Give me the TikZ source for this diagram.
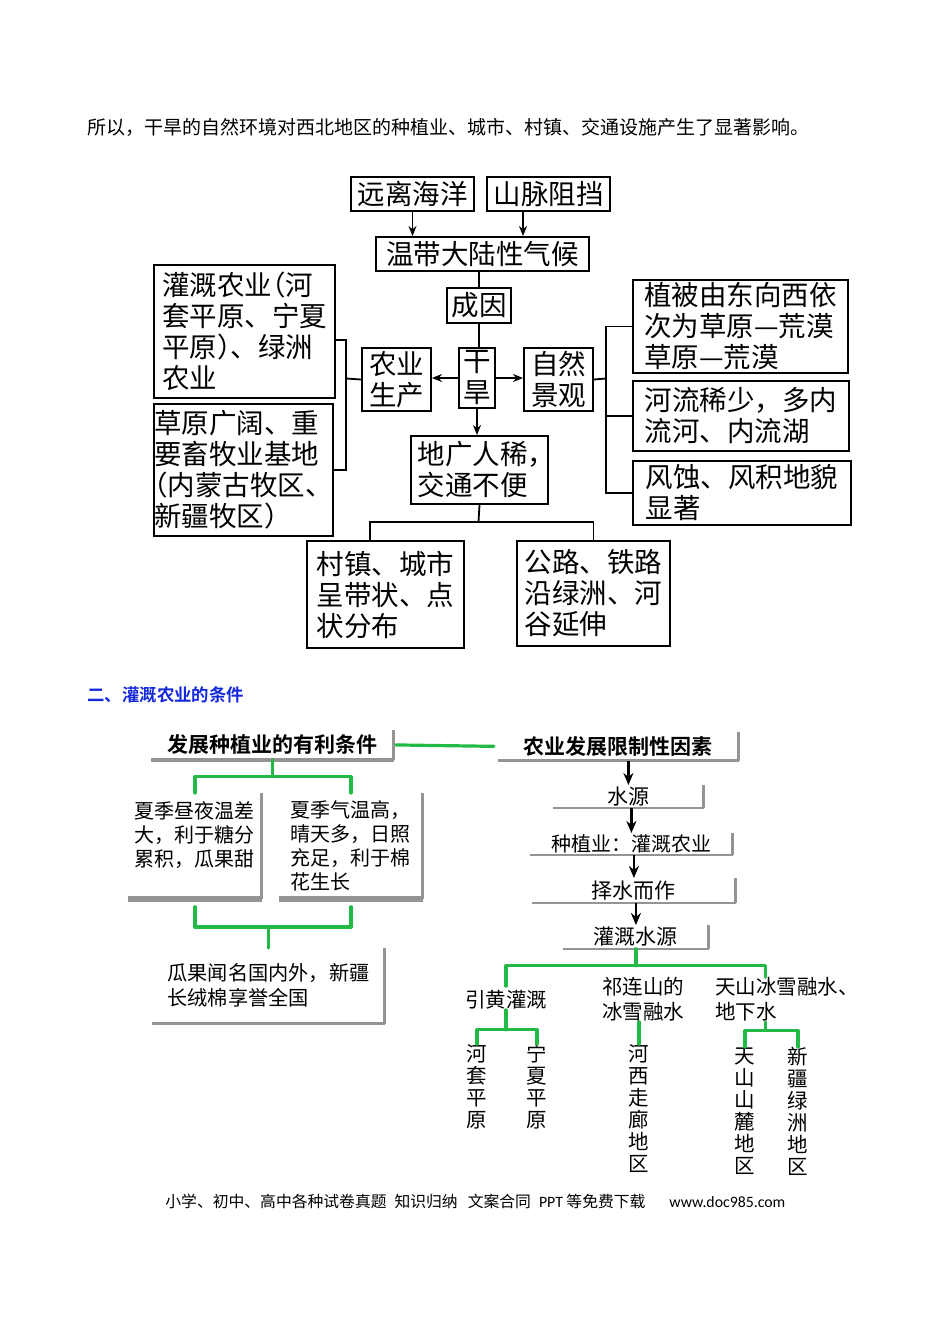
\documentclass[tikz,border=0pt]{standalone}
\usepackage{fontspec}
\setmainfont{Noto Sans CJK SC}[BoldFont={Noto Sans CJK SC Bold}]
\newfontfamily\latinfont{Carlito}
\usetikzlibrary{arrows.meta}
\definecolor{penGreen}{RGB}{35,185,70}
\definecolor{headBlue}{RGB}{20,40,220}
\def\topfont{\fontsize{13.75}{15.5}\selectfont}
\def\subfont{\fontsize{10}{12}\selectfont}
\def\hlp{\makebox[0.5em][r]{（}}
\def\hrp{\makebox[0.5em][l]{）}}
\def\hcomma{\makebox[0.5em][l]{，}}
\def\shadowL#1#2{\draw[shadowline, line width=#2] (#1.south west) -- (#1.south east); \draw[shadowline, line width=1.4pt] (#1.south east) -- (#1.north east);}

\begin{document}
\begin{tikzpicture}[x=0.5pt, y=-0.5pt,
	tbox/.style={draw, line width=1pt, inner sep=0pt, align=left, anchor=north west, font=\topfont},
	con/.style={line width=0.9pt},
	arr/.style={con, -{Stealth[length=5pt, width=4pt]}},
	sbox/.style={inner sep=0pt, align=left, anchor=north west, font=\subfont},
	shadowline/.style={black!42},
	grn/.style={penGreen, line width=1.6pt, line cap=round, line join=round},
	barr/.style={line width=1.1pt, -{Stealth[length=6pt, width=5pt]}},
	vtext/.style={inner sep=0pt, align=center, anchor=north, font=\fontsize{10.25}{11}\selectfont},
	]
		%%%%% START %%%%%
		\useasboundingbox (0,0) rectangle (950,1344);
		
		\node[anchor=west, inner sep=0pt, font=\fontsize{9.5}{11}\selectfont] (intro) at (87,127) {所以，干旱的自然环境对西北地区的种植业、城市、村镇、交通设施产生了显著影响。};
		
		%%%%% top chart %%%%%
		\node[tbox, align=center, minimum width=61.5pt, minimum height=17pt] (yuan) at (350,176) {远离海洋};
		\node[tbox, align=center, minimum width=61.5pt, minimum height=17pt] (shan) at (486,176) {山脉阻挡};
		\node[tbox, align=center, minimum width=106.5pt, minimum height=17pt] (qihou) at (375,236) {温带大陆性气候};
		\node[tbox, align=center, minimum width=32pt, minimum height=17.5pt] (chengyin) at (446,287) {成因};
		\node[tbox, align=center, minimum width=18pt, minimum height=30pt] (ganhan) at (458,347) {干\\旱};
		\node[tbox, align=center, minimum width=34.5pt, minimum height=31.5pt] (nongye) at (361,347) {农业\\生产};
		\node[tbox, align=center, minimum width=34.5pt, minimum height=31.5pt] (ziran) at (523,347) {自然\\景观};
		\node[tbox, minimum width=68.5pt, minimum height=34pt] (diguang) at (410,435) {地广人稀\hcomma\\交通不便};
		
		\node[tbox, minimum width=90.5pt, minimum height=66.5pt] (guangai) at (153,264) {灌溉农业\hlp 河\\套平原、宁夏\\平原\hrp 、绿洲\\农业};
		\node[tbox, minimum width=89.5pt, minimum height=66pt] (caoyuan) at (153,403) {草原广阔、重\\要畜牧业基地\\\hlp 内蒙古牧区、\\新疆牧区\hrp};
		
		\node[tbox, minimum width=107.5pt, minimum height=46.5pt] (zhibei) at (632,279) {植被由东向西依\\次为草原—荒漠\\草原—荒漠};
		\node[tbox, minimum width=108pt, minimum height=35pt] (heliu) at (632,380) {河流稀少，多内\\流河、内流湖};
		\node[tbox, minimum width=109pt, minimum height=32pt] (fengshi) at (632,460) {风蚀、风积地貌\\显著};
		
		\node[tbox, minimum width=78.5pt, minimum height=53.5pt] (cunzhen) at (306,540) {村镇、城市\\呈带状、点\\状分布};
		\node[tbox, minimum width=76.5pt, minimum height=52.5pt] (gonglu) at (516,540) {公路、铁路\\沿绿洲、河\\谷延伸};
		
		\draw[arr] (yuan.south) -- (yuan.south |- qihou.north);
		\draw[arr] ([xshift=18.5pt]shan.south west) -- ([xshift=18.5pt]shan.south west |- qihou.north);
		\draw[con] (qihou.south -| chengyin.north) -- (chengyin.north);
		\draw[con] (chengyin.south) -- (chengyin.south |- ganhan.north);
		\draw[arr] (ganhan.west) -- (ganhan.west -| nongye.east);
		\draw[arr] (ganhan.east) -- (ganhan.east -| ziran.west);
		\draw[arr] (ganhan.south) -- (ganhan.south |- diguang.north);
		
		\coordinate (lj) at (346,378.5);
		\draw[con] (nongye.west) -- (lj);
		\draw[con] ([yshift=-4.25pt]guangai.east) -| (lj);
		\draw[con] (caoyuan.east) -| (lj);
		
		\coordinate (rj) at (606,378.5);
		\draw[con] (ziran.east) -- (rj);
		\draw[con] (zhibei.west) -| (rj);
		\draw[con] (heliu.west) -- (heliu.west -| rj);
		\draw[con] (fengshi.west) -| (rj);
		
		\coordinate (bj) at (478.5,522);
		\draw[con] (diguang.south) -- (bj);
		\draw[con] ([xshift=-7.75pt]cunzhen.north) |- (bj) -| (gonglu.north);
		
		%%%%% section two %%%%%
		\node[anchor=west, inner sep=0pt, font=\fontsize{8.7}{10}\selectfont\bfseries, text=headBlue] (sec) at (87,695) {二、灌溉农业的条件};
		
		\node[sbox, align=center, minimum width=121pt, minimum height=14.5pt, font=\fontsize{10.5}{12}\selectfont\bfseries] (youli) at (151,730) {发展种植业的有利条件};
		\node[sbox, align=center, minimum width=120pt, minimum height=14pt, font=\fontsize{10.5}{12}\selectfont\bfseries] (xianzhi) at (498,732) {农业发展限制性因素};
		\node[sbox, minimum width=66.5pt, minimum height=52.5pt] (wencha) at (128,793) {夏季昼夜温差\\大，利于糖分\\累积，瓜果甜\\\mbox{}};
		\node[sbox, minimum width=71.5pt, minimum height=52.5pt] (qiwen) at (279,793) {夏季气温高，\\晴天多，日照\\充足，利于棉\\花生长};
		\node[sbox, minimum width=116pt, minimum height=37.5pt, font=\fontsize{10.1}{12.5}\selectfont] (guaguo) at (152,948) {瓜果闻名国内外，新疆\\长绒棉享誉全国};
		
		\node[sbox, align=center, minimum width=75pt, minimum height=11pt, font=\fontsize{10.5}{12}\selectfont] (shuiyuan) at (553,785) {水源};
		\node[sbox, align=center, minimum width=101pt, minimum height=10.5pt] (zhongzhi) at (530,833) {种植业：灌溉农业};
		\node[sbox, align=center, minimum width=101.5pt, minimum height=12pt, font=\fontsize{10.5}{12}\selectfont] (zeshui) at (532,878) {择水而作};
		\node[sbox, align=center, minimum width=72.5pt, minimum height=11.5pt, font=\fontsize{10.5}{12}\selectfont] (guanshui) at (563,925) {灌溉水源};
		
		\shadowL{youli}{2pt}
		\shadowL{xianzhi}{1.6pt}
		\shadowL{wencha}{3pt}
		\shadowL{qiwen}{3pt}
		\shadowL{guaguo}{1.5pt}
		\shadowL{shuiyuan}{1.2pt}
		\shadowL{zhongzhi}{1.2pt}
		\shadowL{zeshui}{1.2pt}
		\shadowL{guanshui}{1.2pt}
		
		\node[inner sep=0pt, font=\fontsize{10.25}{12.5}\selectfont] (yinhuang) at (506,1000) {引黄灌溉};
		\node[inner sep=0pt, anchor=west, align=left, font=\fontsize{10.25}{12.5}\selectfont] (qilian) at (602,999.5) {祁连山的\\冰雪融水};
		\node[inner sep=0pt, anchor=west, align=left, font=\fontsize{10.25}{12.5}\selectfont] (tianshan) at (715,999.5) {天山冰雪融水、\\地下水};
		
		\node[vtext] (hetao) at (477,1044) {河\\套\\平\\原};
		\node[vtext] (ningxia) at (537,1044) {宁\\夏\\平\\原};
		\node[vtext] (hexi) at (639,1044) {河\\西\\走\\廊\\地\\区};
		\node[vtext] (shanlu) at (745,1047) {天\\山\\山\\麓\\地\\区};
		\node[vtext] (lvzhou) at (798,1047) {新\\疆\\绿\\洲\\地\\区};
		
		\draw[barr] (shuiyuan.north |- xianzhi.south) -- (shuiyuan.north);
		\draw[barr] (zhongzhi.north |- shuiyuan.south) -- (zhongzhi.north);
		\draw[barr] (zeshui.north |- zhongzhi.south) -- (zeshui.north);
		\draw[barr] (guanshui.north |- zeshui.south) -- (guanshui.north);
		
		% green pen marks
		\draw[grn, shorten <=1pt, shorten >=2pt] (youli.east) -- (xianzhi.west);
		\draw[grn] (youli.south) -- ++(0,17) coordinate (pj);
		\draw[grn] (wencha.north) |- (pj) -| (qiwen.north);
		\draw[grn] (guaguo.north) -- ++(0,-21) coordinate (sj);
		\draw[grn] ([yshift=-4pt]wencha.south) |- (sj) -| ([yshift=-4pt]qiwen.south);
		
		\draw[grn] (guanshui.south) -- ++(0,17) coordinate (wj);
		\draw[grn, shorten <=2pt] (yinhuang.north) |- (wj);
		\draw[grn] (wj) -| ([xshift=-10.75pt]tianshan.north);
		\draw[grn] (yinhuang.south) -- ++(0,20) coordinate (yj);
		\draw[grn] (hetao.north) |- (yj) -| (ningxia.north);
		\draw[grn] (qilian.south -| hexi.north) -- (hexi.north);
		\draw[grn] ([xshift=-10.75pt]tianshan.south) -- ++(0,9) coordinate (tj);
		\draw[grn] (shanlu.north) |- (tj) -| (lvzhou.north);
		
		\node[anchor=west, inner sep=0pt, font=\fontsize{7.9}{9}\selectfont] (foot) at (165,1201) {小学、初中、高中各种试卷真题\hspace{4pt}知识归纳\hspace{5pt}文案合同\hspace{4pt}{\latinfont PPT} 等免费下载\hspace{12pt}{\latinfont www.doc985.com}};
		
		%%%%% END %%%%%
	\end{tikzpicture}
\end{document}
